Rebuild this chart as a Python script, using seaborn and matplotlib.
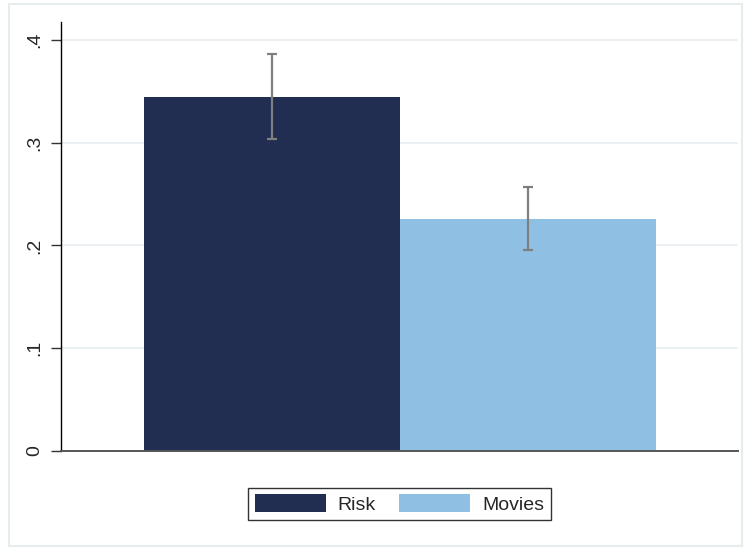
import matplotlib
matplotlib.use("Agg")
import matplotlib.pyplot as plt
import matplotlib.patches as mpatches
import seaborn as sns
import pandas as pd

groups = ["Risk", "Movies"]
means = [0.3445, 0.2258]
ci_low = [0.3036, 0.1956]
ci_high = [0.3865, 0.2570]
colors = ["#212d51", "#90bfe4"]
yticks = [0, 0.1, 0.2, 0.3, 0.4]
ytick_labels = ["0", ".1", ".2", ".3", ".4"]

sns.set_theme(style="white")
plt.rcParams["font.family"] = ["Liberation Sans", "DejaVu Sans"]

df = pd.DataFrame({"group": groups, "share": means})

fig = plt.figure(figsize=(7.45, 5.48), dpi=100)
ax = fig.add_axes([61 / 745, 1 - 451 / 548, (738 - 61) / 745, (451 - 22) / 548])

sns.barplot(data=df, x="group", y="share", hue="group", palette=colors,
            saturation=1, width=1.0, errorbar=None, legend=False, ax=ax,
            edgecolor="none", linewidth=0)

for i, g in enumerate(groups):
    ax.errorbar(i, means[i],
                yerr=[[means[i] - ci_low[i]], [ci_high[i] - means[i]]],
                fmt="none", ecolor="#7f7f7f", elinewidth=1.6, capsize=3.8, capthick=1.6)

ax.set_xlim(-0.824, 1.82)
ax.set_ylim(0, 0.4175)
ax.set_yticks(yticks)
ax.set_yticklabels(ytick_labels, rotation=90, va="center", fontsize=14)
ax.set_xticks([])
ax.set_xlabel("")
ax.set_ylabel("")
ax.yaxis.grid(True, color="#e8eef0", linewidth=1.2)
ax.set_axisbelow(True)
ax.tick_params(axis="y", left=True, length=7, width=1, color="#333333", pad=6)
for s in ["top", "right"]:
    ax.spines[s].set_visible(False)
ax.spines["left"].set_color("black")
ax.spines["left"].set_linewidth(1.0)
ax.spines["bottom"].set_color("#555555")
ax.spines["bottom"].set_linewidth(1.4)

handles = [mpatches.Patch(facecolor=c, edgecolor="none", label=g) for g, c in zip(groups, colors)]
leg = fig.legend(handles=handles, loc="center", bbox_to_anchor=(399.5 / 745, 1 - 504 / 548),
                 ncol=2, fontsize=14, frameon=True, fancybox=False,
                 handlelength=3.65, handleheight=1.0, columnspacing=1.2,
                 handletextpad=0.6, borderpad=0.35, borderaxespad=0)
leg.get_frame().set_edgecolor("black")
leg.get_frame().set_linewidth(1.0)

fig.patches.append(mpatches.Rectangle((9 / 745, 1 - 546 / 548), (742 - 9) / 745, (546 - 4) / 548,
                                      transform=fig.transFigure, fill=False,
                                      edgecolor="#e6ebed", linewidth=1.5))

fig.savefig("out.png", dpi=100)
